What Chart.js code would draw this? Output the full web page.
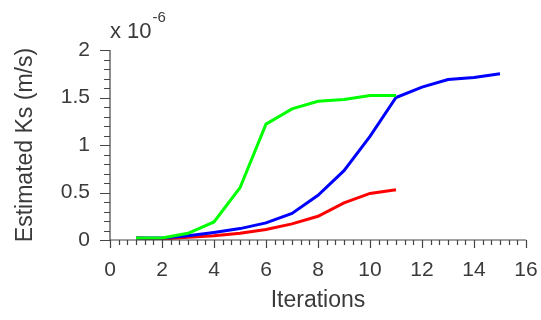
<!DOCTYPE html>
<html><head><meta charset="utf-8">
<script src="https://cdn.jsdelivr.net/npm/chart.js@4/dist/chart.umd.min.js"></script>
<style>html,body{margin:0;padding:0;background:#fff}#w{width:541px;height:320px}</style>
</head><body><div id="w"><canvas id="c" width="541" height="320"></canvas></div>
<script>
const iterations = [1,2,3,4,5,6,7,8,9,10,11,12,13,14,15];
const greenValues = [0.02,0.02,0.07,0.19,0.55,1.22,1.38,1.46,1.48,1.52,1.52];
const blueValues  = [0.02,0.02,0.045,0.08,0.12,0.18,0.28,0.47,0.73,1.09,1.50,1.61,1.69,1.71,1.75];
const redValues   = [0.02,0.01,0.03,0.045,0.07,0.11,0.17,0.25,0.39,0.49,0.53];
const xTicks = [0,2,4,6,8,10,12,14,16];
const yTicks = [0,0.5,1,1.5,2];
const yLabel = 'Estimated Ks (m/s)';
const xLabel = 'Iterations';
const exponentBase = 'x 10';
const exponentSup = '-6';

const pts = v => v.map((y,i)=>({x:iterations[i], y}));
const axisCol = '#444';
const textCol = '#3a3a3a';
const FONT = 'Liberation Sans, Arial, sans-serif';

const ticksPlugin = {
  id:'matlabTicks',
  afterDraw(chart){
    const ctx = chart.ctx, xs = chart.scales.x, ys = chart.scales.y, a = chart.chartArea;
    ctx.save();
    ctx.strokeStyle = axisCol; ctx.lineWidth = 1.2;
    ctx.beginPath();
    ctx.moveTo(a.left, a.top); ctx.lineTo(a.left, a.bottom); ctx.lineTo(a.right, a.bottom);
    for (let k=0;k<=48;k++){
      const v = k/3; const px = Math.round(xs.getPixelForValue(v))+0.5;
      const len = (k%6===0)?8:5;
      ctx.moveTo(px, a.bottom); ctx.lineTo(px, a.bottom+len);
    }
    for (let k=0;k<=20;k++){
      const v = k/10; const py = Math.round(ys.getPixelForValue(v))+0.5;
      const len = (k%5===0)?10:6;
      ctx.moveTo(a.left, py); ctx.lineTo(a.left-len, py);
    }
    ctx.stroke();
    ctx.fillStyle = textCol;
    ctx.font = '22px ' + FONT;
    ctx.textBaseline = 'alphabetic'; ctx.textAlign = 'left';
    ctx.fillText(exponentBase, a.left, 38);
    const w = ctx.measureText(exponentBase).width;
    ctx.font = '15px ' + FONT;
    ctx.fillText(exponentSup, a.left + w + 1, 22);
    ctx.restore();
  }
};

new Chart(document.getElementById('c'), {
  type:'line',
  data:{ datasets:[
    {data:pts(greenValues), borderColor:'#00ff00', backgroundColor:'#00ff00'},
    {data:pts(blueValues), borderColor:'#0000ff', backgroundColor:'#0000ff'},
    {data:pts(redValues), borderColor:'#ff0000', backgroundColor:'#ff0000'}
  ]},
  options:{
    responsive:false, animation:false,
    layout:{padding:{top:50, right:15, left:0, bottom:0}},
    elements:{line:{borderWidth:3, tension:0, borderCapStyle:'butt'}, point:{radius:0}},
    plugins:{legend:{display:false}, tooltip:{enabled:false}},
    scales:{
      x:{type:'linear', min:0, max:16,
        afterBuildTicks(s){ s.ticks = xTicks.map(v=>({value:v})); },
        grid:{display:false, drawTicks:false}, border:{display:false},
        ticks:{color:textCol, font:{family:FONT, size:21}, padding:18, maxRotation:0, callback:v=>String(v)},
        title:{display:true, text:xLabel, color:textCol, font:{family:FONT, size:23}, padding:{top:0,bottom:6}},
        afterFit(s){ s.height = 80; s.paddingLeft = 0; s.paddingRight = 0; }
      },
      y:{type:'linear', min:0, max:2,
        afterBuildTicks(s){ s.ticks = yTicks.map(v=>({value:v})); },
        grid:{display:false, drawTicks:false}, border:{display:false},
        ticks:{color:textCol, font:{family:FONT, size:21}, padding:20, callback:v=>String(v)},
        title:{display:true, text:yLabel, color:textCol, font:{family:FONT, size:23}, padding:{top:12,bottom:0}},
        afterFit(s){ s.width = 110; s.paddingTop = 0; s.paddingBottom = 0; }
      }
    }
  },
  plugins:[ticksPlugin]
});
</script></body></html>
